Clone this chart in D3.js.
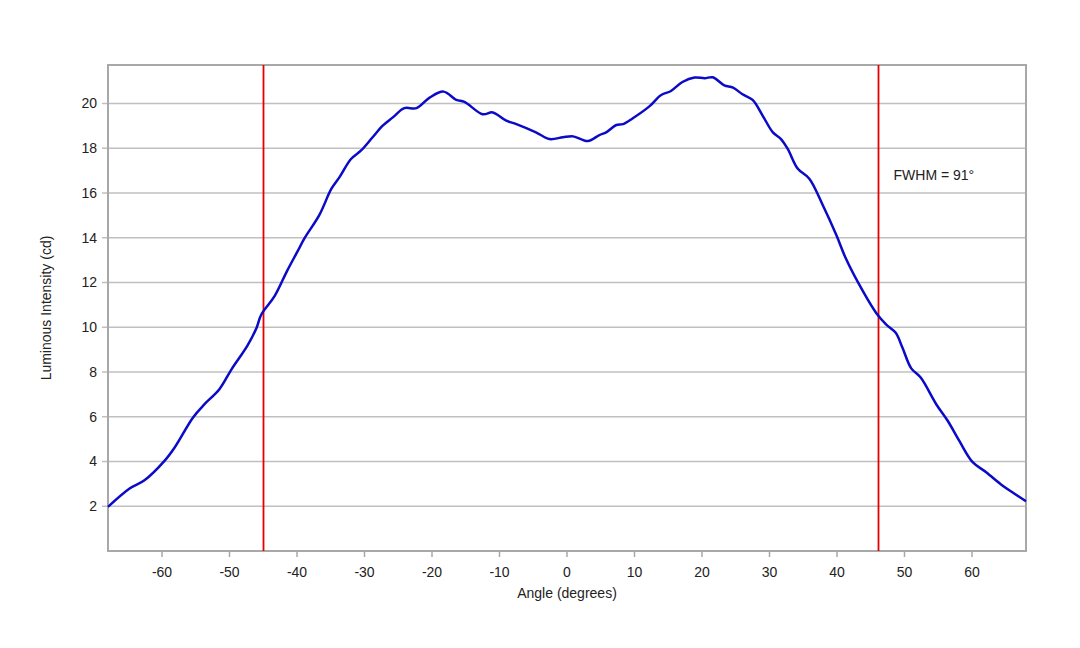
<!DOCTYPE html>
<html>
<head>
<meta charset="utf-8">
<script src="https://cdn.jsdelivr.net/npm/d3@7"></script>
<style>
  body { margin: 0; background: #fff; }
  text { font-family: "Liberation Sans", Arial, sans-serif; fill: #222; }
</style>
</head>
<body>
<div id="chart"></div>
<script>
var angles = [-68, -64.8, -62.6, -59.6, -58.1, -55.4, -53.7, -51.5, -49.7, -47.3, -46.0, -45.3, -43.3, -41.5, -39.9,
  -38.9, -36.7, -34.9, -33.7, -32.0, -30.5, -28.8, -27.3, -25.8, -24.1, -22.3, -20.4, -18.3, -16.4, -15.2,
  -12.5, -11.0, -9.0, -7.5, -4.6, -2.6, -0.6, 0.9, 3.1, 4.8, 5.8, 7.3, 8.3, 9.7, 12.2, 13.9, 15.4, 17.1,
  18.9, 20.4, 21.6, 23.3, 24.6, 26.0, 27.5, 29.0, 30.5, 31.7, 32.7, 34.2, 35.9, 37.9, 39.9, 41.3, 43.3,
  45.8, 47.3, 48.7, 49.7, 51.0, 52.4, 54.7, 56.4, 58.1, 60.1, 62.1, 64.5, 66.3, 68];
var intensity = [1.97, 2.79, 3.16, 4.04, 4.64, 5.97, 6.56, 7.23, 8.12, 9.2, 9.97, 10.56, 11.4, 12.5, 13.4,
  13.97, 15.01, 16.19, 16.71, 17.52, 17.9, 18.49, 19.01, 19.38, 19.79, 19.79, 20.25, 20.53, 20.16, 20.07,
  19.52, 19.6, 19.23, 19.08, 18.71, 18.41, 18.49, 18.53, 18.32, 18.59, 18.71, 19.04, 19.08, 19.33, 19.87, 20.37, 20.56, 20.96,
  21.16, 21.13, 21.17, 20.81, 20.71, 20.41, 20.16, 19.45, 18.71, 18.41, 17.97, 17.08, 16.64, 15.45, 14.12, 13.08, 11.9,
  10.64, 10.12, 9.75, 9.08, 8.16, 7.75, 6.56, 5.82, 4.93, 3.97, 3.52, 2.93, 2.56, 2.22];

var fwhmEdges = [-45, 46];
var fwhmLabel = "FWHM = 91°";
var xTicks = [-60, -50, -40, -30, -20, -10, 0, 10, 20, 30, 40, 50, 60];
var yTicks = [2, 4, 6, 8, 10, 12, 14, 16, 18, 20];

var width = 1080, height = 648;
var margin = {top: 65, right: 54, bottom: 97, left: 108};

var svg = d3.select("#chart").append("svg")
    .attr("width", width)
    .attr("height", height);

var x = d3.scaleLinear()
    .domain([-68, 68])
    .range([margin.left, width - margin.right]);

var y = d3.scaleLinear()
    .domain([0, 21.72])
    .range([height - margin.bottom, margin.top]);

// gridlines
svg.append("g")
    .selectAll("line")
    .data(yTicks)
    .enter().append("line")
    .attr("x1", margin.left - 6)
    .attr("x2", width - margin.right)
    .attr("y1", d => y(d))
    .attr("y2", d => y(d))
    .attr("stroke", "#c0c0c0")
    .attr("stroke-width", 1.5);

svg.append("g")
    .selectAll("text")
    .data(yTicks)
    .enter().append("text")
    .attr("x", margin.left - 11)
    .attr("y", d => y(d))
    .attr("dy", "0.35em")
    .attr("text-anchor", "end")
    .style("font-size", "14px")
    .text(d => d);

// x ticks
svg.append("g")
    .selectAll("line")
    .data(xTicks)
    .enter().append("line")
    .attr("x1", d => x(d))
    .attr("x2", d => x(d))
    .attr("y1", height - margin.bottom)
    .attr("y2", height - margin.bottom + 6)
    .attr("stroke", "#a8a8a8")
    .attr("stroke-width", 1.5);

svg.append("g")
    .selectAll("text")
    .data(xTicks)
    .enter().append("text")
    .attr("x", d => x(d))
    .attr("y", height - margin.bottom + 26)
    .attr("text-anchor", "middle")
    .style("font-size", "14px")
    .text(d => d);

// frame
svg.append("rect")
    .attr("x", margin.left)
    .attr("y", margin.top)
    .attr("width", width - margin.left - margin.right)
    .attr("height", height - margin.top - margin.bottom)
    .attr("fill", "none")
    .attr("stroke", "#a8a8a8")
    .attr("stroke-width", 2);

// FWHM markers
svg.append("g")
    .selectAll("line")
    .data(fwhmEdges)
    .enter().append("line")
    .attr("x1", d => Math.round(x(d)) + 0.5)
    .attr("x2", d => Math.round(x(d)) + 0.5)
    .attr("y1", margin.top)
    .attr("y2", height - margin.bottom)
    .attr("stroke", "#e80000")
    .attr("stroke-width", 1.8);

svg.append("text")
    .attr("x", x(fwhmEdges[1]) + 16)
    .attr("y", y(16.8) + 5)
    .style("font-size", "14px")
    .text(fwhmLabel);

// intensity curve
var line = d3.line()
    .x((d, i) => x(angles[i]))
    .y(d => y(d))
    .curve(d3.curveCatmullRom);

svg.append("path")
    .datum(intensity)
    .attr("d", line)
    .attr("fill", "none")
    .attr("stroke", "#0a0ac8")
    .attr("stroke-width", 2.5);

// axis titles
svg.append("text")
    .attr("x", x(0))
    .attr("y", height - margin.bottom + 47)
    .attr("text-anchor", "middle")
    .style("font-size", "14px")
    .text("Angle (degrees)");

svg.append("text")
    .attr("transform", "translate(51," + ((margin.top + height - margin.bottom) / 2) + ") rotate(-90)")
    .attr("text-anchor", "middle")
    .style("font-size", "14px")
    .text("Luminous Intensity (cd)");
</script>
</body>
</html>
